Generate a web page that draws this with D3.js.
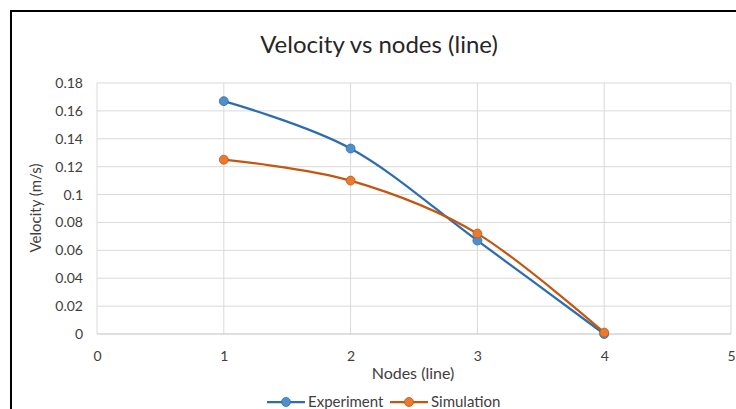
<!DOCTYPE html>
<html>
<head>
<meta charset="utf-8">
<script src="https://cdn.jsdelivr.net/npm/d3@7"></script>
<style>
  body { margin: 0; background: #fff; }
  svg { display: block; font-family: Lato, 'Open Sans', sans-serif; }
</style>
</head>
<body>
<div id="chart"></div>
<script>
// chart values
const nodes = [1, 2, 3, 4];
const experiment = [0.167, 0.133, 0.067, 0];
const simulation = [0.125, 0.11, 0.072, 0.001];
const xTicks = [0, 1, 2, 3, 4, 5];
const yTicks = [0, 0.02, 0.04, 0.06, 0.08, 0.1, 0.12, 0.14, 0.16, 0.18];

const width = 736,
  height = 409,
  margin = {left: 97, right: 5, top: 83, bottom: 75};

const series = [
  {name: 'Experiment', values: experiment, stroke: '#2E6DAD', fill: '#4F8FCC'},
  {name: 'Simulation', values: simulation, stroke: '#C4560F', fill: '#E97A2F'}
];

const svg = d3.select('#chart').append('svg')
  .attr('width', width)
  .attr('height', height);

// outer border of the chart object
svg.append('rect')
  .attr('x', 11).attr('y', 11)
  .attr('width', width + 20).attr('height', height + 20)
  .attr('fill', 'none')
  .attr('stroke', '#000')
  .attr('stroke-width', 2);

const x = d3.scaleLinear().domain([0, 5]).range([margin.left, width - margin.right]);
const y = d3.scaleLinear().domain([0, 0.18]).range([height - margin.bottom, margin.top]);

// gridlines
svg.append('g').selectAll('line.h')
  .data(yTicks.slice(1))
  .join('line')
  .attr('x1', x(0)).attr('x2', x(5))
  .attr('y1', d => y(d)).attr('y2', d => y(d))
  .attr('stroke', '#D9D9D9');

svg.append('g').selectAll('line.v')
  .data(xTicks)
  .join('line')
  .attr('x1', d => x(d)).attr('x2', d => x(d))
  .attr('y1', y(0)).attr('y2', y(0.18))
  .attr('stroke', '#D9D9D9');

// x axis line
svg.append('line')
  .attr('x1', x(0)).attr('x2', x(5))
  .attr('y1', y(0)).attr('y2', y(0))
  .attr('stroke', '#BFBFBF');

// tick labels
const yAxis = d3.axisLeft(y).tickValues(yTicks).tickSize(0).tickPadding(14)
  .tickFormat(d => String(+d.toFixed(2)));
svg.append('g')
  .attr('transform', 'translate(' + x(0) + ',0)')
  .call(yAxis)
  .call(g => g.select('.domain').remove())
  .selectAll('text')
  .attr('font-size', 14)
  .attr('fill', '#404040')
  .attr('font-family', 'Lato, sans-serif');

const xAxis = d3.axisBottom(x).tickValues(xTicks).tickSize(0).tickPadding(17)
  .tickFormat(d3.format('d'));
svg.append('g')
  .attr('transform', 'translate(0,' + y(0) + ')')
  .call(xAxis)
  .call(g => g.select('.domain').remove())
  .selectAll('text')
  .attr('font-size', 14)
  .attr('fill', '#404040')
  .attr('font-family', 'Lato, sans-serif');

// titles
svg.append('text')
  .attr('x', 379).attr('y', 53)
  .attr('text-anchor', 'middle')
  .attr('font-size', 24)
  .attr('fill', '#262626')
  .text('Velocity vs nodes (line)');

svg.append('text')
  .attr('x', 413).attr('y', 379)
  .attr('text-anchor', 'middle')
  .attr('font-size', 16)
  .attr('fill', '#404040')
  .text('Nodes (line)');

svg.append('text')
  .attr('transform', 'translate(41,' + 208 + ') rotate(-90)')
  .attr('text-anchor', 'middle')
  .attr('font-size', 15)
  .attr('fill', '#404040')
  .text('Velocity (m/s)');

// lines and markers
const line = d3.line()
  .curve(d3.curveCardinal.tension(0))
  .x((d, i) => x(nodes[i]))
  .y(d => y(d));

series.forEach(s => {
  svg.append('path')
    .datum(s.values)
    .attr('d', line)
    .attr('fill', 'none')
    .attr('stroke', s.stroke)
    .attr('stroke-width', 2.25);
});

series.forEach(s => {
  svg.append('g').selectAll('circle')
    .data(s.values)
    .join('circle')
    .attr('cx', (d, i) => x(nodes[i]))
    .attr('cy', d => y(d))
    .attr('r', 4.5)
    .attr('fill', s.fill)
    .attr('stroke', s.stroke)
    .attr('stroke-width', 0.75);
});

// legend
const legendX = [267, 390];
const legend = svg.append('g');
series.forEach((s, i) => {
  const g = legend.append('g').attr('transform', 'translate(' + legendX[i] + ',402)');
  g.append('line')
    .attr('x1', 0).attr('x2', 38)
    .attr('stroke', s.stroke).attr('stroke-width', 2.25);
  g.append('circle')
    .attr('cx', 19).attr('r', 4.5)
    .attr('fill', s.fill).attr('stroke', s.stroke).attr('stroke-width', 0.75);
  g.append('text')
    .attr('x', 41).attr('y', 5)
    .attr('font-size', 15)
    .attr('fill', '#404040')
    .text(s.name);
});
</script>
</body>
</html>
